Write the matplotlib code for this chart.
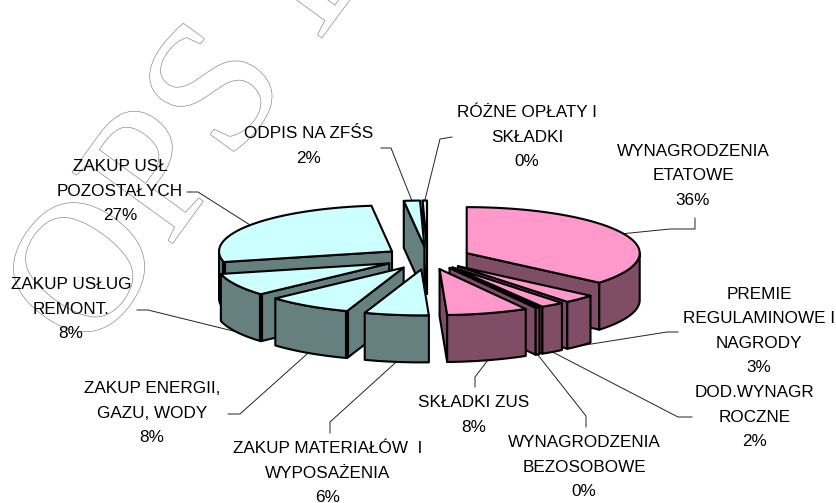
import numpy as np
import matplotlib
matplotlib.use("Agg")
import matplotlib.pyplot as plt
import matplotlib.patheffects as pe
from matplotlib.patches import Polygon

# slices go clockwise from 12 o'clock
categories = [
    "WYNAGRODZENIA\nETATOWE", "PREMIE\nREGULAMINOWE I\nNAGRODY", "DOD.WYNAGR\nROCZNE",
    "WYNAGRODZENIA\nBEZOSOBOWE", "SKŁADKI ZUS", "ZAKUP MATERIAŁÓW  I\nWYPOSAŻENIA",
    "ZAKUP ENERGII,\nGAZU, WODY", "ZAKUP USŁUG\nREMONT.", "ZAKUP USŁ\nPOZOSTAŁYCH",
    "ODPIS NA ZFŚS", "RÓŻNE OPŁATY I\nSKŁADKI",
]
shares = [36.1, 3.0, 2.2, 0.4, 7.6, 6.0, 8.0, 8.0, 26.8, 1.5, 0.4]
top_colors = ["#FF99CC"] * 5 + ["#CCFFFF"] * 6
side_colors = ["#804D66"] * 5 + ["#668080"] * 6

# layout, in pixels of the 837x503 picture
cx, cy = 427.5, 258
rx, ry = 173, 46
depth = 47
explode = 0.25
label_xy = [(693, 176), (759, 331), (755, 417), (584, 467), (474, 415), (328, 473),
            (152, 413), (71, 309), (120, 191), (309, 146), (527, 137)]
# leader elbows: label end, then bend, the last point comes from the slice rim
leader_xy = [
    [(695, 218), (695, 229), (670, 229)],
    [(678, 332), (667, 332)],
    [(692, 417), (678, 417)],
    [(586, 427), (586, 416)],
    [(475, 387), (475, 377)],
    [(330, 433), (330, 422)],
    [(228, 414), (240, 414)],
    [(137, 310), (148, 310)],
    [(187, 192), (198, 192)],
    [(381, 148), (391, 148)],
    [(452, 137), (440, 139)],
]

plt.rcParams["font.family"] = ["Liberation Sans", "DejaVu Sans"]
fig = plt.figure(figsize=(8.37, 5.03), dpi=100)
ax = fig.add_axes([0, 0, 1, 1])
ax.set_xlim(0, 837)
ax.set_ylim(503, 0)
ax.axis("off")

# watermark behind the chart
ax.text(89, 358, "OPS B", family="Liberation Serif", fontsize=135, rotation=54,
        rotation_mode="anchor", ha="left", va="baseline", color="white", zorder=0,
        path_effects=[pe.Stroke(linewidth=1.0, foreground="#8c8c8c"), pe.Normal()])


def rim(apex, t):
    t = np.asarray(t, dtype=float)
    return apex[0] + rx * np.sin(np.radians(t)), apex[1] - ry * np.cos(np.radians(t))


edges = np.concatenate([[0], np.cumsum(shares)]) / sum(shares) * 360
slices = []
for i in range(len(shares)):
    t1, t2 = edges[i], edges[i + 1]
    mid = (t1 + t2) / 2
    ox, oy = rim((0, 0), mid)
    slices.append((i, t1, t2, mid, (cx + explode * ox, cy + explode * oy)))

line = dict(edgecolor="black", linewidth=1.5, joinstyle="round")
z = 2
# back slices first, so the front ones cover them
for i, t1, t2, mid, apex in sorted(slices, key=lambda s: -np.cos(np.radians(s[3]))):
    for t, visible in ((t1, np.sin(np.radians(t1)) < 0), (t2, np.sin(np.radians(t2)) > 0)):
        if visible:
            x, y = rim(apex, t)
            ax.add_patch(Polygon([apex, (x, y), (x, y + depth), (apex[0], apex[1] + depth)],
                                 facecolor=side_colors[i], zorder=z, **line))
            z += 1
    a, b = max(t1, 90), min(t2, 270)
    if a < b:
        x, y = rim(apex, np.linspace(a, b, 60))
        pts = np.r_[np.c_[x, y], np.c_[x, y + depth][::-1]]
        ax.add_patch(Polygon(pts, facecolor=side_colors[i], zorder=z, **line))
        z += 1
    # the near corner of the cut face is drawn heavier in the original
    if 180 < t1 < 270:
        x, y = rim(apex, t1)
        ax.plot([x, x], [y, y + depth], color="black", lw=3, solid_capstyle="butt", zorder=z)
        z += 1
    x, y = rim(apex, np.linspace(t1, t2, 100))
    ax.add_patch(Polygon(np.r_[[apex], np.c_[x, y]], facecolor=top_colors[i], zorder=z, **line))
    z += 1

z += 1
for i, t1, t2, mid, apex in slices:
    x, y = rim(apex, mid)
    if np.cos(np.radians(mid)) < 0:
        y = y + depth
    pts = leader_xy[i] + [(x, y)]
    ax.plot([p[0] for p in pts], [p[1] for p in pts], color="#222222", lw=0.7, zorder=1)
    ax.text(label_xy[i][0], label_xy[i][1], f"{categories[i]}\n{round(shares[i])}%",
            ha="center", va="center", ma="center", fontsize=12.3, linespacing=1.8,
            color="black", zorder=z)

fig.savefig("out.png", dpi=100, facecolor="white")
